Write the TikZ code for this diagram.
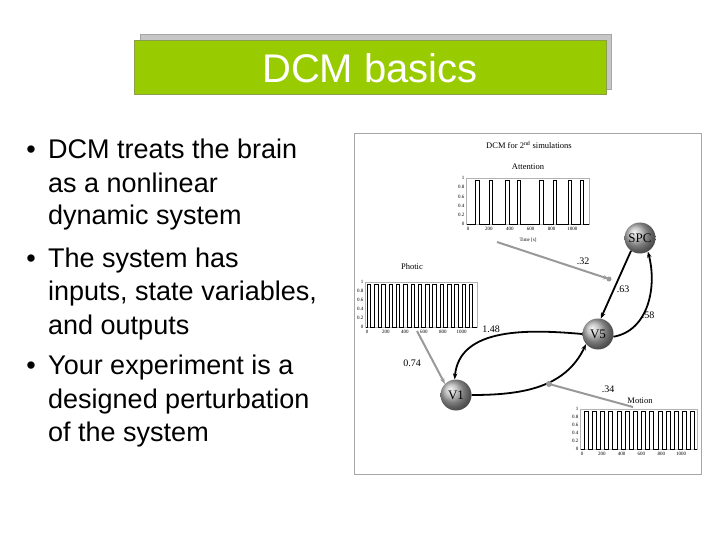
\documentclass[tikz,border=0pt]{standalone}
\usepackage{fontspec}
\setmainfont{Liberation Sans}
\newfontfamily\figfont{Liberation Serif}
\usetikzlibrary{arrows.meta,shadings}
\definecolor{dcmgreen}{HTML}{99CC00}
\tikzset{
  bl/.style={anchor=base west,inner sep=0pt,font=\fontsize{27}{30}\selectfont},
  bu/.style={anchor=base,inner sep=0pt,font=\fontsize{27}{30}\selectfont},
  ball/.style={circle,minimum size=31pt,inner sep=0pt,shading=ball,ball color=gray!60,font=\figfont\fontsize{13}{13}\selectfont},
  wt/.style={font=\figfont\fontsize{10}{10}\selectfont,inner sep=1pt},
  tk/.style={font=\figfont\fontsize{5}{5}\selectfont,inner sep=0.5pt},
  ttl/.style={font=\figfont\fontsize{8.5}{8.5}\selectfont,inner sep=0pt},
  inp/.style={gray!80,line width=2pt,-{Stealth[length=6pt]}},
  con/.style={black,line width=1.8pt,-{Stealth[length=6pt]}},
  wave/.style={black,line width=0.5pt}
}
\newcommand{\miniplot}[5]{% x0 y0(top) x1 y1(base) labels
  \draw[gray!60,line width=0.4pt] (#1,#2) rectangle (#3,#4);
  \foreach \k [count=\i from 0] in {1,0.8,0.6,0.4,0.2,0}{
    \node[tk,anchor=east] at (#1-1,{#2+\i*(#4-#2)/5}) {\k};}
  \foreach \k [count=\i from 0] in {0,200,400,600,800,1000}{
    \node[tk,anchor=north] at ({#1+2+\i*(#3-#1-4)/5.7},#4+2) {\k};}
}
\begin{document}
\begin{tikzpicture}[x=1pt,y=-1pt]
\useasboundingbox (0,0) rectangle (720,540);
% title
\fill[gray!45] (140,34) rectangle (611,89);
\draw[gray!70,line width=0.6pt] (140,34) rectangle (611,89);
\fill[dcmgreen] (134,40) rectangle (606,94);
\draw[gray!60!dcmgreen,line width=0.6pt] (134,40) rectangle (606,94);
\node[text=white,font=\fontsize{40}{42}\selectfont,inner sep=0pt] (title) at (370,68) {DCM basics};
% bullets
\foreach \y in {159,267,374} \node[bu] at (31,\y) {\textbullet};
\node[bl] (l1) at (48,159) {DCM treats the brain};
\node[bl] (l2) at (48,193) {as a nonlinear};
\node[bl] (l3) at (48,225) {dynamic system};
\node[bl] (l4) at (48,267) {The system has};
\node[bl] (l5) at (48,300) {inputs, state variables,};
\node[bl] (l6) at (48,334) {and outputs};
\node[bl] (l7) at (48,374) {Your experiment is a};
\node[bl] (l8) at (48,408) {designed perturbation};
\node[bl] (l9) at (48,441) {of the system};
% figure frame
\draw[gray!70,line width=0.8pt] (354,133) rectangle (701,474);
\node[ttl] (ft) at (529,145) {DCM for 2\textsuperscript{nd} simulations};
% attention plot
\node[ttl] (att) at (528,167) {Attention};
\miniplot{466}{178}{589}{224}{}
\draw[wave] (467,224) -- (475,224)
  \foreach \a/\b in {475/479,489/492,505/509,517/520,539/543,553/556,568/571,580/583}{ -- (\a,224) -- (\a,180) -- (\b,180) -- (\b,224)} -- (589,224);
\node[tk] (tlab) at (528,240) {Time [s]};
% photic plot
\node[ttl] (pho) at (412,267) {Photic};
\miniplot{365}{282}{477}{327}{}
\draw[wave] (366,327)
  \foreach \i in {0,...,14}{ -- ({367+\i*7.3},327) -- ({367+\i*7.3},284) -- ({370.5+\i*7.3},284) -- ({370.5+\i*7.3},327)} -- (477,327);
% motion plot
\node[ttl] (mot) at (640,401) {Motion};
\miniplot{580}{409}{697}{449}{}
\draw[wave] (581,449)
  \foreach \i in {0,...,13}{ -- ({584+\i*8.2},449) -- ({584+\i*8.2},411) -- ({588+\i*8.2},411) -- ({588+\i*8.2},449)} -- (697,449);
% nodes
\node[ball] (spc) at (640,238) {SPC};
\node[ball] (v5) at (598,334) {V5};
\node[ball] (v1) at (456,395) {V1};
% connections
\draw[con] (spc.-125) -- (v5.80);
\draw[con] (v5.-10) to[out=10,in=-75] (spc.-60);
\draw[con] (v5.west) to[out=175,in=85] (v1.95);
\draw[con] (v1.east) to[out=0,in=-115] (v5.-140);
\coordinate (c1) at (497,242);
\coordinate (c1e) at (609,279);
\draw[inp] (c1) -- (c1e);
\fill[gray!80] (c1e) circle (2.5pt);
\coordinate (c2) at (417,331);
\draw[inp] (c2) -- (v1.north west);
\coordinate (c3) at (633,407);
\coordinate (c3e) at (549,384);
\draw[inp,-] (c3) -- (c3e);
\fill[gray!80] (c3e) circle (3pt);
\node[wt] at (583,261) {.32};
\node[wt] at (623,289) {.63};
\node[wt] at (648,315) {.58};
\node[wt] at (491,329) {1.48};
\node[wt] at (412,363) {0.74};
\node[wt] at (608,389) {.34};
\end{tikzpicture}
\end{document}
